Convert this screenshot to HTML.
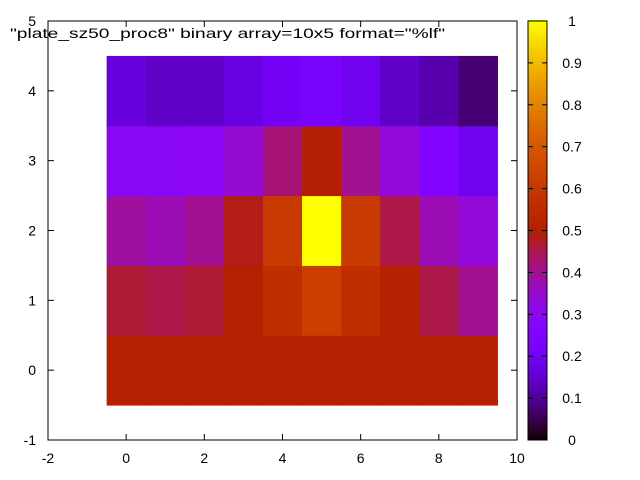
<!DOCTYPE html>
<html><head><meta charset="utf-8"><style>
body{margin:0;background:#fff}
svg{display:block;font-family:"Liberation Sans",sans-serif;font-size:14px}
</style></head><body>
<svg id="c" width="640" height="480"></svg>
<script>
const xTicks=[-2,0,2,4,6,8,10];
const yTicks=[-1,0,1,2,3,4,5];
const cbTicks=[0,0.1,0.2,0.3,0.4,0.5,0.6,0.7,0.8,0.9,1];
const row0=[0.5,0.5,0.5,0.5,0.5,0.5,0.5,0.5,0.5,0.5];
const row1=[0.466,0.455,0.466,0.5,0.567,0.627,0.567,0.5,0.455,0.404];
const row2=[0.394,0.374,0.404,0.487,0.615,1.0,0.615,0.455,0.374,0.337];
const row3=[0.293,0.293,0.30,0.346,0.424,0.498,0.404,0.337,0.252,0.193];
const row4=[0.166,0.142,0.142,0.173,0.207,0.229,0.193,0.142,0.119,0.075];
const rows=[row0,row1,row2,row3,row4];
const NS="http://www.w3.org/2000/svg",svg=document.getElementById('c');
const X0=48,X1=517,Y0=21,Y1=440;
const sx=v=>X0+(v+2)/12*(X1-X0);
const sy=v=>Y1-(v+1)/6*(Y1-Y0);
const cy=v=>Y1-v*(Y1-Y0);
function pal(x){const r=Math.sqrt(x),g=x*x*x,b=Math.max(0,Math.min(1,Math.sin(2*Math.PI*x)));
return `rgb(${Math.round(r*255)},${Math.round(g*255)},${Math.round(b*255)})`;}
function mk(t,a,p){const e=document.createElementNS(NS,t);for(const k in a)e.setAttribute(k,a[k]);(p||svg).appendChild(e);return e;}
rows.forEach((row,j)=>row.forEach((v,i)=>{
 const r=mk('rect',{x:sx(i-0.5),y:sy(j+0.5),width:sx(i+0.5)-sx(i-0.5)+0.5,height:sy(j-0.5)-sy(j+0.5)+0.5,fill:pal(v)});
 
 
}));
const frame=mk('rect',{x:X0,y:Y0,width:X1-X0,height:Y1-Y0,fill:'none',stroke:'#000','stroke-width':1});


xTicks.forEach(t=>{const x=sx(t);
 mk('line',{x1:x,x2:x,y1:Y1,y2:Y1-6,stroke:'#000'});mk('line',{x1:x,x2:x,y1:Y0,y2:Y0+6,stroke:'#000'});
 const l=mk('text',{x:x,y:Y1+23,'text-anchor':'middle'});l.textContent=t;
 
 });
yTicks.forEach(t=>{const y=sy(t);
 mk('line',{x1:X0,x2:X0+6,y1:y,y2:y,stroke:'#000'});mk('line',{x1:X1,x2:X1-6,y1:y,y2:y,stroke:'#000'});
 const l=mk('text',{x:X0-12,y:y+5,'text-anchor':'end'});l.textContent=t;
 
 });
const CX0=528,CX1=547;
for(let i=0;i<420;i++){const v=i/419;mk('rect',{x:CX0,y:cy(v)-1,width:CX1-CX0,height:1.5,fill:pal(v)});}
const cbf=mk('rect',{x:CX0,y:Y0,width:CX1-CX0,height:Y1-Y0,fill:'none',stroke:'#000'});


cbTicks.forEach(t=>{const y=cy(t);
 mk('line',{x1:CX0,x2:CX0+5,y1:y,y2:y,stroke:'#000'});mk('line',{x1:CX1,x2:CX1-5,y1:y,y2:y,stroke:'#000'});
 const l=mk('text',{x:CX1+25,y:y+5,'text-anchor':'middle'});l.textContent=t;
 
 });
const ti=mk('text',{x:10,y:38,textLength:435,lengthAdjust:'spacingAndGlyphs'});ti.textContent='"plate_sz50_proc8" binary array=10x5 format="%lf"';


</script>
</body></html>
